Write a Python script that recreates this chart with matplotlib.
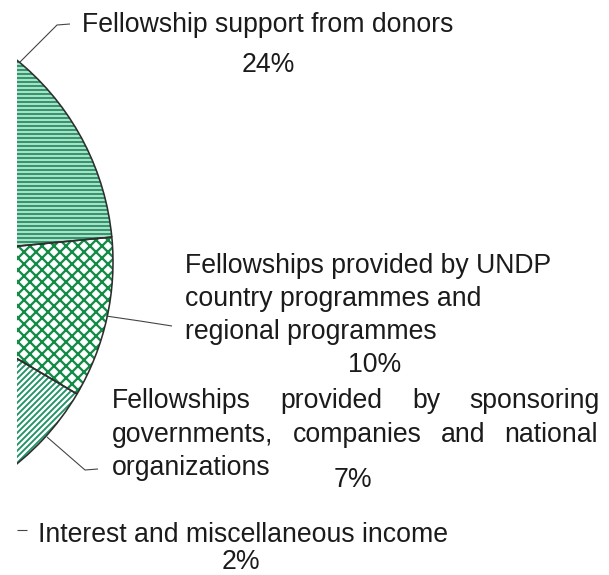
import matplotlib
matplotlib.use('Agg')
import matplotlib.pyplot as plt
from matplotlib.patches import Rectangle

plt.rcParams['font.family'] = ['Liberation Sans', 'DejaVu Sans']

# ---- data (shares of fellowship funding, %) ----
categories = ["Fellowship support from donors",
              "Fellowships provided by UNDP country programmes and regional programmes",
              "Fellowships provided by sponsoring governments, companies and national organizations",
              "Interest and miscellaneous income"]
shares = [24, 10, 7, 2]
pct_labels = ["24%", "10%", "7%", "2%"]

# ---- styling ----
W, H, DPI = 609, 575, 72
FS = 26.6
TXT = '#1b1b1b'
hatches = ['---', 'xx', '////', '']
hatch_colors = ['#2a9b6a', '#148c48', '#23946a', '#23946a']
hatch_lws = [2.7, 2.3, 1.9, 1.9]

fig = plt.figure(figsize=(W / DPI, H / DPI), dpi=DPI)
ax = fig.add_axes([0, 0, 1, 1])

center = (-147, H - 262)
R = 260
start = 91.9
fracs = [s / 100 for s in shares]

clip = Rectangle((17, 0), W - 17, H, transform=ax.transData)

fills, _ = ax.pie(fracs, normalize=False, radius=R, center=center,
                  startangle=start, counterclock=False, frame=True,
                  colors=['white'] * len(fracs))
for w, h, hc, hl in zip(fills, hatches, hatch_colors, hatch_lws):
    w.set_hatch(h)
    w.set_edgecolor(hc)
    w.set_linewidth(0)
    try:
        w.set_hatch_linewidth(hl)
    except Exception:
        pass
    w.set_clip_on(True)
    w.set_clip_path(clip)

outl, _ = ax.pie(fracs, normalize=False, radius=R, center=center,
                 startangle=start, counterclock=False, frame=True,
                 wedgeprops=dict(facecolor='none', edgecolor='#2e2e2e', linewidth=1.6))
for w in outl:
    w.set_clip_on(True)
    w.set_clip_path(clip)

ax.set_aspect('auto')
ax.set_xlim(0, W)
ax.set_ylim(0, H)
ax.axis('off')


def Y(p):
    return H - p


def txt(x, yp, s, ha='left'):
    return ax.text(x, Y(yp), s, fontsize=FS, color=TXT, ha=ha, va='baseline')


def justify(words, x0, x1, yp):
    objs = [txt(0, yp, w) for w in words]
    r = fig.canvas.get_renderer()
    widths = [o.get_window_extent(r).width for o in objs]
    gap = (x1 - x0 - sum(widths)) / (len(words) - 1)
    x = x0
    for o, wd in zip(objs, widths):
        o.set_x(x)
        x += wd + gap


# label 1
txt(82, 32, "Fellowship support from donors")
txt(268, 72, pct_labels[0], ha='center')
# label 2
txt(185, 273, "Fellowships provided by UNDP")
txt(185, 306, "country programmes and")
txt(185, 339, "regional programmes")
txt(375, 372, pct_labels[1], ha='center')
# label 3 (justified)
justify(["Fellowships", "provided", "by", "sponsoring"], 112, 600, 408)
justify(["governments,", "companies", "and", "national"], 112, 598, 442)
txt(112, 475, "organizations")
txt(353, 487, pct_labels[2], ha='center')
# label 4
txt(38, 542, "Interest and miscellaneous income")
txt(241, 569, pct_labels[3], ha='center')

# leader lines
LC = '#444444'
leaders = [([20, 57, 70], [62, 25, 24]),
           ([106, 140, 172], [316, 321, 326]),
           ([47, 85, 98], [437, 470, 469]),
           ([17, 27], [530, 530])]
for xs, ys in leaders:
    ax.plot(xs, [Y(v) for v in ys], color=LC, lw=1.1, solid_capstyle='butt')

fig.savefig('out.png', dpi=DPI, facecolor='white')
